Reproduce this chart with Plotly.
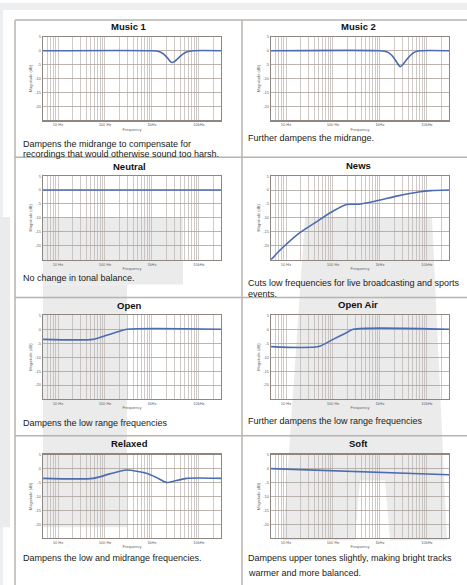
import plotly.graph_objects as go

W, H = 467, 585

# ---------------- data ----------------
titles = ["Music 1", "Music 2", "Neutral", "News", "Open", "Open Air", "Relaxed", "Soft"]
descriptions = [
    ["Dampens the midrange to compensate for", "recordings that would otherwise sound too harsh."],
    ["Further dampens the midrange."],
    ["No change in tonal balance."],
    ["Cuts low frequencies for live broadcasting and sports", "events."],
    ["Dampens the low range frequencies"],
    ["Further dampens the low range frequencies"],
    ["Dampens the low and midrange frequencies."],
    ["Dampens upper tones slightly, making bright tracks", "warmer and more balanced."],
]

music1_hz = [4.8, 1000, 1400, 1780, 2140, 2510, 2690, 2950, 3550, 4470, 5620, 7590, 30000]
music1_db = [0, 0, -0.3, -1.2, -2.6, -4.0, -4.2, -4.0, -2.8, -1.3, -0.4, 0, 0]

music2_hz = [4.8, 1000, 1400, 1780, 2140, 2510, 2690, 2950, 3550, 4470, 5620, 7080, 30000]
music2_db = [0, 0, -0.4, -1.6, -3.4, -5.2, -5.7, -5.3, -3.6, -1.6, -0.4, 0, 0]

neutral_hz = [4.8, 30000]
neutral_db = [0, 0]

news_hz = [4.8, 8.1, 18, 42, 93, 195, 345, 780, 2400, 6600, 12000, 30000]
news_db = [-25, -21, -15.8, -11.7, -7.9, -5.2, -5.1, -4.0, -2.1, -0.7, -0.2, 0]

open_hz = [4.8, 56, 100, 180, 290, 30000]
open_db = [-3.6, -3.6, -2.3, -1.0, 0, 0]

openair_hz = [4.8, 49, 100, 180, 270, 30000]
openair_db = [-6.2, -6.2, -3.6, -1.5, 0, 0]

relaxed_hz = [4.8, 56, 126, 288, 760, 1250, 2040, 3300, 5500, 30000]
relaxed_db = [-3.5, -3.5, -1.9, -0.5, -1.7, -3.2, -5.0, -4.3, -3.5, -3.5]

soft_hz = [4.8, 30000]
soft_db = [0, -2.2]

series_hz = [music1_hz, music2_hz, neutral_hz, news_hz, open_hz, openair_hz, relaxed_hz, soft_hz]
series_db = [music1_db, music2_db, neutral_db, news_db, open_db, openair_db, relaxed_db, soft_db]

x_major_vals = [10, 100, 1000, 10000]
x_major_labels = ["10 Hz", "100 Hz", "1kHz", "10kHz"]
y_tick_vals = [5, 0, -5, -10, -15, -20, -25]
y_tick_labels = ["5", "0", "-5", "-10", "-15", "-20", ""]

# ---------------- layout helpers ----------------
def fx(px):
    return px / W

def fy(py):
    return 1 - py / H

col_x = [(43, 221), (271, 449)]
row_y = [(34, 118), (174, 258), (314, 398), (454, 538)]
title_cx = [129, 358]
title_y = [24, 24, 164, 163, 304, 303, 443, 443]
desc_x = [21, 246]
desc_y = [[142, 152], [136], [276], [281, 292], [422], [420], [558], [558, 573]]

GRID = "#bbb4af"
FRAME = "#8e8681"
LINE = "#4c6cb0"
BORDER = "#bab2ac"

# gridlines at every 1..9 multiple of each decade
x_grid_vals = [m * 10 ** d for d in range(5) for m in range(1, 10)]
x_grid_text = [x_major_labels[x_major_vals.index(v)] if v in x_major_vals else "" for v in x_grid_vals]

fig = go.Figure()
layout = dict(
    width=W, height=H, margin=dict(l=0, r=0, t=0, b=0),
    paper_bgcolor="white", plot_bgcolor="rgba(0,0,0,0)", showlegend=False,
    font=dict(family="Liberation Sans, Arial, sans-serif", color="#222"),
)

annotations = []
for i in range(8):
    r, c = divmod(i, 2)
    n = "" if i == 0 else str(i + 1)
    x0, x1 = col_x[c]
    y0, y1 = row_y[r]
    fig.add_trace(go.Scatter(
        x=series_hz[i], y=series_db[i], mode="lines",
        line=dict(color=LINE, width=1.6, shape="spline", smoothing=0.7),
        xaxis="x" + n, yaxis="y" + n, hoverinfo="skip",
    ))
    layout["xaxis" + n] = dict(
        type="log", range=[0.68, 4.47], domain=[fx(x0), fx(x1)], anchor="y" + n,
        tickmode="array", tickvals=x_grid_vals, ticktext=x_grid_text,
        showgrid=True, gridcolor=GRID, gridwidth=0.7,
        showline=True, linecolor=FRAME, linewidth=1.2, mirror=True,
        ticks="", zeroline=False, fixedrange=True,
        tickfont=dict(size=4, color="#666"),
        title=dict(text="Frequency", font=dict(size=4, color="#666"), standoff=1),
    )
    layout["yaxis" + n] = dict(
        range=[-25, 5], domain=[fy(y1), fy(y0)], anchor="x" + n,
        tickmode="array", tickvals=y_tick_vals, ticktext=y_tick_labels,
        showgrid=True, gridcolor="#aaa29c", gridwidth=0.8,
        showline=True, linecolor=FRAME, linewidth=1.2, mirror=True,
        ticks="", zeroline=False, fixedrange=True,
        tickfont=dict(size=4, color="#666"),
        title=dict(text="Magnitude (dB)", font=dict(size=4, color="#666"), standoff=2),
    )
    annotations.append(dict(
        x=fx(title_cx[c]), y=fy(title_y[i]), xref="paper", yref="paper",
        text="<b>" + titles[i] + "</b>", showarrow=False,
        xanchor="center", yanchor="middle", font=dict(size=9.5, color="#111"),
    ))
    for k, line in enumerate(descriptions[i]):
        annotations.append(dict(
            x=fx(desc_x[c]), y=fy(desc_y[i][k]), xref="paper", yref="paper",
            text=line, showarrow=False, xanchor="left", yanchor="middle",
            font=dict(size=9, color="#1a1a1a"),
        ))

def rect(xa, ya, xb, yb, color):
    return dict(type="rect", xref="paper", yref="paper", x0=fx(xa), x1=fx(xb),
                y0=fy(yb), y1=fy(ya), fillcolor=color, line=dict(width=0), layer="below")

def poly(pts, color):
    path = "M " + " L ".join(f"{fx(a)},{fy(b)}" for a, b in pts) + " Z"
    return dict(type="path", xref="paper", yref="paper", path=path,
                fillcolor=color, line=dict(width=0), layer="below")

def hline(y, xa, xb):
    return dict(type="line", xref="paper", yref="paper", x0=fx(xa), x1=fx(xb),
                y0=fy(y), y1=fy(y), line=dict(color=BORDER, width=1.5), layer="below")

def vline(x, ya, yb):
    return dict(type="line", xref="paper", yref="paper", x0=fx(x), x1=fx(x),
                y0=fy(ya), y1=fy(yb), line=dict(color=BORDER, width=1.5), layer="below")

WM = "#ebebeb"
shapes = [
    rect(0, 0, W, 7, "#eceef0"),
    rect(0, 0, 3, H, "#eceef0"),
    # faint watermark
    rect(0, 215, 10, 527, WM),
    rect(43, 215, 183, 283, WM),
    rect(43, 283, 127, 527, WM),
    poly([(305, 215), (432, 215), (447, 540), (283, 540)], WM),
    poly([(360, 480), (385, 480), (390, 540), (355, 540)], "white"),
    # table borders
    hline(17, 15, W), hline(155, 15, W), hline(296, 15, W), hline(435, 15, W),
    vline(15, 17, H), vline(242, 17, H),
]

layout["annotations"] = annotations
layout["shapes"] = shapes
fig.update_layout(**layout)
fig.write_html(
    "out.html",
    config={"displayModeBar": False, "staticPlot": True},
    post_script="document.body.style.margin='0';document.body.style.overflow='hidden';",
)
